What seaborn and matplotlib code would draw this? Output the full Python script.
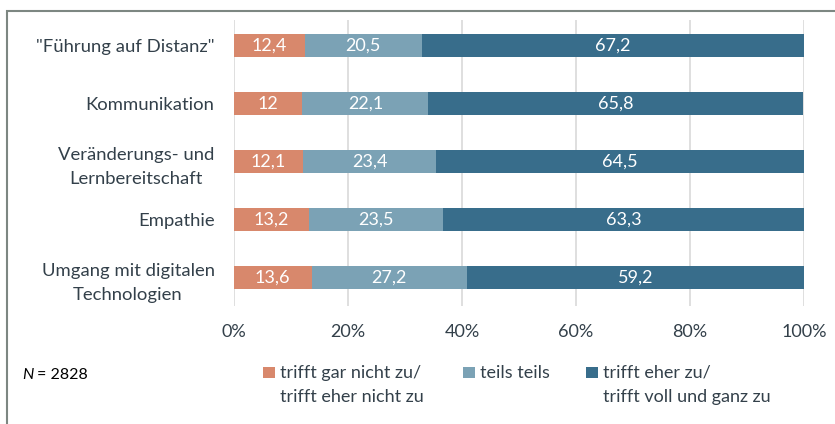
import numpy as np
import pandas as pd
import matplotlib
matplotlib.use("Agg")
import matplotlib.pyplot as plt
from matplotlib.patches import Rectangle
import seaborn as sns

# Survey items (top to bottom) and response shares in percent
items = [
    '"Führung auf Distanz"',
    "Kommunikation",
    "Veränderungs- und\nLernbereitschaft",
    "Empathie",
    "Umgang mit digitalen\nTechnologien",
]
disagree = [12.4, 12.0, 12.1, 13.2, 13.6]
neutral = [20.5, 22.1, 23.4, 23.5, 27.2]
agree = [67.2, 65.8, 64.5, 63.3, 59.2]

series_names = [
    "trifft gar nicht zu/\ntrifft eher nicht zu",
    "teils teils",
    "trifft eher zu/\ntrifft voll und ganz zu",
]
x_ticks = [0, 20, 40, 60, 80, 100]
sample_note = "= 2828"

colors = ["#D8886C", "#7BA2B5", "#386D8B"]
text_color = "#33404A"
grid_color = "#D9D9D9"
font = "Lato"

sns.set_theme(style="white")
plt.rcParams["font.family"] = [font, "DejaVu Sans"]

df = pd.DataFrame({
    "item": items,
    "disagree": disagree,
    "neutral": neutral,
    "agree": agree,
})
df["cum1"] = df["disagree"]
df["cum2"] = df["disagree"] + df["neutral"]
df["cum3"] = df["cum2"] + df["agree"]

W, H = 835, 424
fig = plt.figure(figsize=(W / 100, H / 100), dpi=100)
ax = fig.add_axes([234 / W, 1 - 306 / H, 570 / W, 286 / H])

# Stacked bars: widest cumulative layer first, then overlay shorter ones
bar_h = 0.40
for col, c in zip(["cum3", "cum2", "cum1"], colors[::-1]):
    sns.barplot(data=df, x=col, y="item", orient="h", color=c,
                width=bar_h, linewidth=0, saturation=1, ax=ax, zorder=3)

# Value labels centred within each segment
def fmt(v):
    s = f"{v:g}"
    return s.replace(".", ",")

for i, row in df.iterrows():
    starts = [0, row["cum1"], row["cum2"]]
    vals = [row["disagree"], row["neutral"], row["agree"]]
    for s, v in zip(starts, vals):
        ax.text(s + v / 2, i, fmt(v), ha="center", va="center",
                color="white", fontsize=13, zorder=5)

ax.set_xlim(0, 100)
ax.set_ylim(4.49, -0.44)
ax.set_xticks(x_ticks)
ax.set_xticklabels([f"{t}%" for t in x_ticks])
ax.xaxis.grid(True, color=grid_color, linewidth=1.2, zorder=0)
ax.set_axisbelow(True)
for sp in ax.spines.values():
    sp.set_visible(False)
ax.set_xlabel("")
ax.set_ylabel("")
ax.tick_params(axis="x", length=0, pad=13, labelsize=13, labelcolor=text_color)
ax.tick_params(axis="y", length=0, pad=14, labelsize=13.3, labelcolor=text_color)
for lab in ax.get_yticklabels():
    lab.set_multialignment("center")
    lab.set_linespacing(1.6)

# Legend drawn as figure patches and text
def fx(px):
    return px / W

def fy(py):
    return 1 - py / H

legend_x = [263, 463, 586]
for x0, name, c in zip(legend_x, series_names, colors):
    fig.patches.append(Rectangle((fx(x0), fy(378)), 12 / W, 11 / H,
                                 transform=fig.transFigure, facecolor=c,
                                 edgecolor="none"))
    fig.text(fx(x0 + 17), fy(365), name, ha="left", va="top",
             fontsize=13, color=text_color, linespacing=1.6)

fig.text(fx(22), fy(375), "N", style="italic", ha="left", va="center",
         fontsize=11.5, color="black")
fig.text(fx(37), fy(375), sample_note, ha="left", va="center",
         fontsize=11.5, color="black")

# Outer frame (left and top edges visible)
fig.patches.append(Rectangle((fx(7), -0.05), 1.1, fy(11) + 0.05,
                             transform=fig.transFigure, facecolor="none",
                             edgecolor="#7D8782", linewidth=1.5))

fig.savefig("out.png", dpi=100)
